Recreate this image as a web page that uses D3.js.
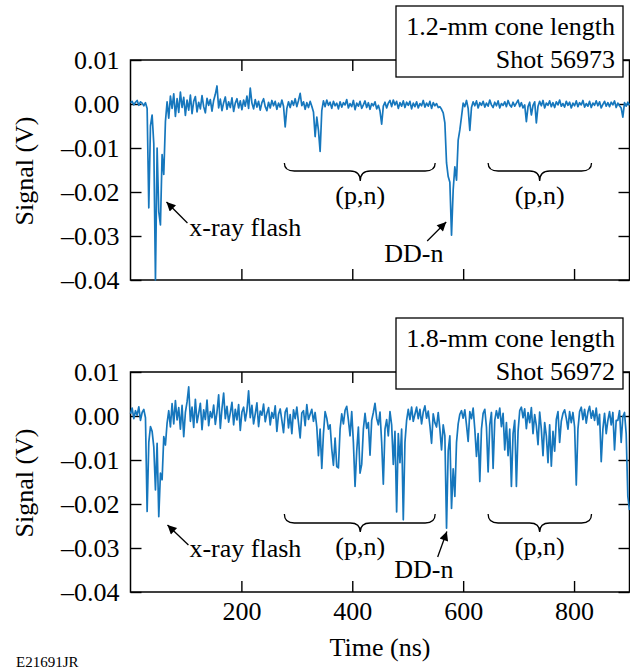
<!DOCTYPE html>
<html>
<head>
<meta charset="utf-8">
<script src="https://cdn.jsdelivr.net/npm/d3@7"></script>
<style>
  body { margin: 0; background: #fff; }
  text { font-family: "Liberation Serif", "Times New Roman", serif; fill: #000; }
</style>
</head>
<body>
<div id="chart"></div>
<script>
// Sampling step of the traces (ns), one value every 3 ns starting at 0
const timeStep = 3;

// Shot 56973, 1.2-mm cone, signal in mV (rows of 10 samples = 30 ns)
const signalTop = [
  0.3, 0.6, -0.2, 0.4, 0.8, -0.3, 0.5, 0.2, -0.4, 0.3,
  -1.0, -23.6, -5.0, -2.5, -9.0, -40.0, -10.0, -24.5, -27.5, -11.5,
  -16.0, -4.0, 0.5, -3.2, 1.8, -1.0, 2.3, -2.8, 1.2, -1.9,
  2.7, -0.8, 1.5, -2.6, 0.9, -1.4, 2.0, -2.2, 0.6, 1.7,
  -1.8, 0.4, -1.1, 1.9, -0.6, -2.0, 1.3, -0.3, 1.0, -1.6,
  0.8, 2.2, 4.1, -0.9, 1.1, -1.5, 0.3, 1.6, -1.2, 0.5,
  -0.8, 1.4, -1.7, 0.2, 1.2, -0.9, 0.7, -1.3, 0.9, -0.5,
  1.8, -1.0, 3.6, 0.2, -1.1, 1.0, -0.7, 0.6, -1.4, 0.3,
  1.2, -0.6, -1.5, 0.4, -0.9, 0.8, -0.4, 0.6, -1.2, 0.2,
  -0.7, 0.9, -0.5, -5.2, -1.0, 0.5, -0.8, 0.7, -0.3, 1.2,
  -0.6, 0.8, 2.4, -0.4, 0.5, -1.2, 0.3, -0.8, 0.6, -0.5,
  -1.8, -7.4, -3.0, -6.0, -10.8, -1.5, 0.7, -0.6, 0.9, -0.3,
  0.4, -1.0, 0.6, -0.4, 0.2, -1.1, 0.5, -0.7, 0.3, -0.2,
  1.0, -0.9, 0.1, -0.6, 0.8, -1.3, 0.2, -0.5, 0.6, -1.0,
  -0.2, 0.7, -0.8, 0.3, -1.2, 0.1, -0.4, 0.5, -1.1, -0.3,
  -1.6, -4.6, -0.5, 0.4, -0.9, 0.2, 0.8, -0.6, 0.9, -0.2,
  0.6, -1.0, 0.3, -0.5, 0.7, -0.8, 0.4, -0.3, 0.6, -1.1,
  0.2, -0.6, 0.5, -0.9, 0.1, -0.4, 0.8, -0.7, 0.2, -0.5,
  0.6, -1.0, 0.3, -0.4, 0.1, -0.8, -0.6, -1.2, -2.0, -4.3,
  -13.4, -16.5, -17.8, -29.8, -19.5, -14.3, -17.3, -8.2, -5.9, -2.9,
  0.2, -0.6, 0.8, -1.0, -6.0, -0.8, 0.5, -0.4, 0.7, -0.9,
  0.3, -0.3, 0.6, -0.7, 0.2, -0.5, 0.9, -0.2, -0.8, 0.4,
  -0.4, 0.7, -0.9, 0.1, -0.3, 0.5, -0.6, 0.8, -0.2, -0.7,
  0.4, -0.5, 0.2, 0.9, -0.6, 0.3, -0.9, -0.2, -4.0, -0.6,
  0.4, -2.5, -0.3, 0.5, -4.3, -0.5, 0.6, -0.4, 0.8, -0.9,
  0.2, -0.3, 0.7, -0.6, 0.3, -0.8, 0.5, -0.2, 0.9, -0.5,
  0.1, -0.7, 0.6, -0.3, 0.4, -0.9, 0.2, -0.4, 0.7, -0.6,
  0.3, -0.2, 0.8, -0.7, 0.1, -0.5, 0.6, -0.8, 0.2, -0.3,
  0.7, -0.4, 0.5, -0.9, -0.1, 0.6, -0.5, 0.3, -0.6, 0.4,
  -0.2, 0.7, -0.8, 0.2, -0.4, -0.9, -3.0, 0.3, -0.5, 0.4,
  -0.3
];

// Shot 56972, 1.8-mm cone, signal in mV
const signalBottom = [
  0.5, 1.8, -0.6, 1.2, 0.2, 2.1, -1.0, 0.8, 1.5, -0.4,
  -21.7, -6.0, -2.4, -3.5, -7.0, -16.8, -6.2, -22.9, -13.0, -14.5,
  -4.7, -6.6, -1.6, 1.2, -2.5, 2.8, -1.8, 3.5, -0.9, 1.9,
  -3.0, 2.4, -4.7, 0.8, 3.2, 6.6, -1.2, 2.0, -2.6, 3.8,
  -1.5, 0.6, 2.9, -3.1, 1.4, -0.8, 3.6, -2.2, 1.0, -0.4,
  2.5, -1.9, 0.9, 4.8, -2.8, 1.7, 5.2, -0.6, 2.2, -1.4,
  0.7, 3.1, -2.0, 1.5, -0.9, 2.6, -3.3, 0.9, 2.0, -1.1,
  1.3, 5.7, -0.4, 2.4, -1.8, 0.5, 3.0, -2.4, 1.1, 0.2,
  2.7, -1.3, 0.6, 1.9, -2.0, 0.8, -0.5, 2.3, -3.5, 0.4,
  1.6, -1.0, -3.8, 0.9, 1.8, -2.7, 0.3, -4.0, 1.4, -0.6,
  2.0, -1.5, -5.0, 0.7, 1.2, -2.2, 2.6, -0.8, 0.4, 1.5,
  -1.2, 0.8, -2.5, -9.0, -3.0, -11.9, -4.0, 1.0, -0.5, -3.0,
  -2.0, -7.5, -11.2, -5.0, -11.5, -11.8, -3.0, 0.5, -1.8, 1.3,
  2.2, -0.9, -4.5, 1.0, -6.0, -16.0, -8.0, -2.5, -13.0, -11.0,
  -3.0, 0.6, -2.8, -1.5, -8.9, -1.0, 0.8, 2.9, -0.5, -2.0,
  0.9, -6.0, -15.5, -3.0, -0.8, -4.5, 1.0, -2.0, -11.0, -3.5,
  -21.8, -4.0, -10.6, -3.0, -23.6, -6.0, -1.0, 1.5, -0.8, 2.0,
  -1.2, 0.4, 2.0, -0.6, 1.5, -1.8, 0.9, 2.3, -0.5, 1.1,
  -2.2, -6.2, 0.5, -1.5, -2.5, 0.8, -3.0, -7.7, -2.0, -4.5,
  -25.5, -8.0, -4.5, -21.0, -12.0, -18.3, -6.0, -1.8, 0.4, 1.2,
  -0.5, 1.4, -2.0, -5.8, 1.0, -0.6, 1.8, -3.0, -9.2, -4.0,
  -14.9, -3.0, 0.6, 1.5, -2.5, -12.7, -2.0, 0.8, -11.9, -1.0,
  1.2, -0.5, 1.8, -2.4, 0.6, -7.7, -1.5, -9.0, -3.0, -16.0,
  -4.0, -1.0, -16.0, -3.5, 1.2, 2.0, -0.4, 1.6, -2.9, 0.8,
  -1.5, 1.9, -4.0, 0.3, -2.2, -6.5, 0.9, -3.0, -9.0, -1.5,
  -4.5, -10.6, -2.0, -11.4, -3.5, -8.0, -0.8, 1.0, -6.0, -1.2,
  0.6, 1.4, -0.5, -3.0, 1.0, -1.5, 0.8, -2.5, -15.7, -3.0,
  1.0, 2.0, -0.8, 1.5, -1.6, 0.9, 2.2, -0.5, 1.2, -1.0,
  1.8, -2.0, 0.4, -10.4, -3.0, 0.6, -4.0, -1.0, 1.0, -2.0,
  0.8, -7.7, -1.0, -1.0, 1.2, -6.0, -0.2, 0.8, -4.0, -18.3,
  -21.4
];

// Axis ticks
const yTickValues = [0.01, 0, -0.01, -0.02, -0.03, -0.04];
const yTickLabels = ["0.01", "0.00", "\u20130.01", "\u20130.02", "\u20130.03", "\u20130.04"];
const xTickValues = [200, 400, 600, 800];

// Legend texts
const legendTop = ["1.2-mm cone length", "Shot 56973"];
const legendBottom = ["1.8-mm cone length", "Shot 56972"];

// Layout
const W = 630, H = 670;
const FONT = 26;
const TICK = 11;
const BLUE = "#1677bd";

const svg = d3.select("#chart").append("svg")
    .attr("width", W)
    .attr("height", H);

svg.append("defs").append("marker")
    .attr("id", "arrow")
    .attr("viewBox", "0 0 10 10")
    .attr("refX", 10).attr("refY", 5)
    .attr("markerWidth", 12).attr("markerHeight", 9)
    .attr("markerUnits", "userSpaceOnUse")
    .attr("orient", "auto")
    .append("path")
    .attr("d", "M0,0 L10,5 L0,10 z")
    .attr("fill", "#000");

const x = d3.scaleLinear().domain([0, 900]).range([130.5, 629.5]);

function label(g, px, py, s, anchor, size) {
    return g.append("text")
        .attr("x", px).attr("y", py)
        .attr("text-anchor", anchor)
        .attr("font-size", size)
        .text(s);
}

// Curly brace opening upward
function brace(g, x0, x1, xm, yEnd, yLine, yTip) {
    const r = 10;
    const d = `M${x0},${yEnd} Q${x0},${yLine} ${x0 + r},${yLine} L${xm - r},${yLine} ` +
              `Q${xm},${yLine} ${xm},${yTip} Q${xm},${yLine} ${xm + r},${yLine} ` +
              `L${x1 - r},${yLine} Q${x1},${yLine} ${x1},${yEnd}`;
    g.append("path").attr("d", d).attr("fill", "none")
        .attr("stroke", "#000").attr("stroke-width", 1.3);
}

const panels = [
    {
        top: 60, signal: signalTop, legend: legendTop, showX: false,
        flashText: [106, -0.0300], flashArrow: [[102.7, -0.02705], [64.9, -0.02227]],
        braceY: [-0.01341, -0.01523, -0.0175], pnY: -0.02273,
        ddText: [457.7, -0.0359], ddArrow: [[535.1, -0.03114], [569.4, -0.02682]]
    },
    {
        top: 372, signal: signalBottom, legend: legendBottom, showX: true,
        flashText: [106.3, -0.03205], flashArrow: [[104.5, -0.02932], [66.7, -0.02477]],
        braceY: [-0.02227, -0.02432, -0.02636], pnY: -0.0316,
        ddText: [475.7, -0.03682], ddArrow: [[554, -0.03205], [570.6, -0.02625]]
    }
];
const braces = [[277.5, 549.5, 414.4], [645, 831.5, 738]];

panels.forEach(p => {
    const y = d3.scaleLinear().domain([-0.04, 0.01]).range([p.top + 220, p.top]);
    const g = svg.append("g");

    // Frame
    g.append("rect")
        .attr("x", x(0)).attr("y", y(0.01))
        .attr("width", x(900) - x(0)).attr("height", y(-0.04) - y(0.01))
        .attr("fill", "none").attr("stroke", "#000").attr("stroke-width", 1.5);

    // Left axis with labels
    const left = g.append("g")
        .attr("transform", `translate(${x(0)},0)`)
        .call(d3.axisLeft(y).tickValues(yTickValues)
            .tickFormat((d, i) => yTickLabels[i])
            .tickSizeInner(-TICK).tickSizeOuter(0).tickPadding(11));
    left.select(".domain").remove();
    left.attr("font-size", FONT).attr("font-family", null);

    // Right axis, ticks only
    const right = g.append("g")
        .attr("transform", `translate(${x(900)},0)`)
        .call(d3.axisRight(y).tickValues(yTickValues).tickFormat("")
            .tickSizeInner(-TICK).tickSizeOuter(0));
    right.select(".domain").remove();

    // Top axis, ticks only
    const topAx = g.append("g")
        .attr("transform", `translate(0,${y(0.01)})`)
        .call(d3.axisTop(x).tickValues(xTickValues).tickFormat("")
            .tickSizeInner(-TICK).tickSizeOuter(0));
    topAx.select(".domain").remove();

    // Bottom axis
    const bottom = g.append("g")
        .attr("transform", `translate(0,${y(-0.04)})`)
        .call(d3.axisBottom(x).tickValues(xTickValues)
            .tickFormat(p.showX ? d3.format("d") : "")
            .tickSizeInner(-TICK).tickSizeOuter(0).tickPadding(10));
    bottom.select(".domain").remove();
    bottom.attr("font-size", FONT).attr("font-family", null);

    g.selectAll(".tick line").attr("stroke-width", 1.4);

    // Signal trace
    const line = d3.line()
        .x((d, i) => x(i * timeStep))
        .y(d => y(d / 1000));
    g.append("path")
        .datum(p.signal)
        .attr("d", line)
        .attr("fill", "none")
        .attr("stroke", BLUE)
        .attr("stroke-width", 1.7)
        .attr("stroke-linejoin", "round");

    // Y-axis title
    g.append("text")
        .attr("transform", `translate(33,${(y(0.01) + y(-0.04)) / 2 + 1}) rotate(-90)`)
        .attr("text-anchor", "middle")
        .attr("font-size", FONT)
        .text("Signal (V)");

    // Legend box
    g.append("rect")
        .attr("x", 396).attr("y", p.top - 54)
        .attr("width", 227).attr("height", 71)
        .attr("fill", "#fff").attr("stroke", "#000").attr("stroke-width", 1.3);
    label(g, 615, p.top - 25, p.legend[0], "end", FONT);
    label(g, 615, p.top + 7.5, p.legend[1], "end", FONT);

    // Annotations
    label(g, x(p.flashText[0]), y(p.flashText[1]), "x-ray flash", "start", FONT);
    g.append("line")
        .attr("x1", x(p.flashArrow[0][0])).attr("y1", y(p.flashArrow[0][1]))
        .attr("x2", x(p.flashArrow[1][0])).attr("y2", y(p.flashArrow[1][1]))
        .attr("stroke", "#000").attr("stroke-width", 1.3)
        .attr("marker-end", "url(#arrow)");

    braces.forEach(b => {
        brace(g, x(b[0]), x(b[1]), x(b[2]), y(p.braceY[0]), y(p.braceY[1]), y(p.braceY[2]));
        label(g, x(b[2]), y(p.pnY), "(p,n)", "middle", FONT);
    });

    label(g, x(p.ddText[0]), y(p.ddText[1]), "DD-n", "start", FONT);
    g.append("line")
        .attr("x1", x(p.ddArrow[0][0])).attr("y1", y(p.ddArrow[0][1]))
        .attr("x2", x(p.ddArrow[1][0])).attr("y2", y(p.ddArrow[1][1]))
        .attr("stroke", "#000").attr("stroke-width", 1.3)
        .attr("marker-end", "url(#arrow)");
});

// X-axis title and figure code
label(svg, 380, 656, "Time (ns)", "middle", FONT);
label(svg, 16, 667, "E21691JR", "start", 15);
</script>
</body>
</html>
